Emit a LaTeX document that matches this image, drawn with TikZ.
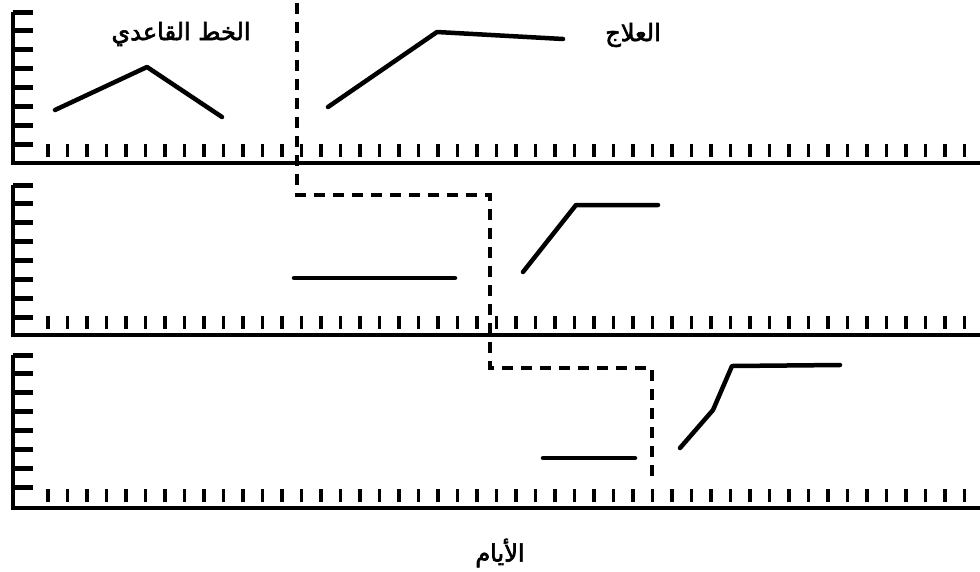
\documentclass[tikz,border=0pt]{standalone}
\usepackage{fontspec}
\newfontfamily\arabicfont[Script=Arabic,FakeBold=2.5]{DejaVu Sans}
\TeXXeTstate=1
\tikzset{
  axisline/.style={line width=4pt},
  dataline/.style={line width=4.5pt, line cap=round, line join=round},
  xtick/.style={line width=3.2pt},
  ytick/.style={line width=5pt},
  guide/.style={line width=3.6pt, dash pattern=on 11pt off 8pt},
  lab/.style={font=\arabicfont\fontsize{24}{28}\selectfont, inner sep=0pt}
}
\begin{document}
\begin{tikzpicture}[x=1pt,y=-1pt]
\useasboundingbox[fill=white] (0,0) rectangle (980,571);
% panels
\foreach \b/\t in {163/12,335/185,508/355}{
  \draw[axisline] (13,\t) -- (13,\b) -- (980,\b);
  \foreach \k in {0,...,7}{
    \draw[ytick] (13,{\t+\k*18.9}) -- (33,{\t+\k*18.9});
  }
  \foreach \n in {0,...,47}{
    \draw[xtick] ({48+\n*19.5},{\b-19}) -- ({48+\n*19.5},{\b-6});
  }
}
% phase change lines
\draw[guide] (297,3) -- (297,195) -- (490,195) -- (490,368) -- (652,368) -- (652,478);
% panel 1 data
\draw[dataline] (55,110) -- (147,67) -- (222,117);
\draw[dataline] (328,107) -- (437,32) -- (563,39);
% panel 2 data
\draw[dataline] (294,278) -- (455,278);
\draw[dataline] (523,272) -- (576,205) -- (658,205);
% panel 3 data
\draw[dataline] (543,458) -- (635,458);
\draw[dataline] (680,448) -- (713,410) -- (732,366) -- (840,365);
% labels
\node[lab] (baseline) at (181,34) {\beginR الخط القاعدي\endR};
\node[lab] (treat) at (633,35) {\beginR العلاج\endR};
\node[lab] (days) at (500,553) {\beginR الأيام\endR};
\end{tikzpicture}
\end{document}
